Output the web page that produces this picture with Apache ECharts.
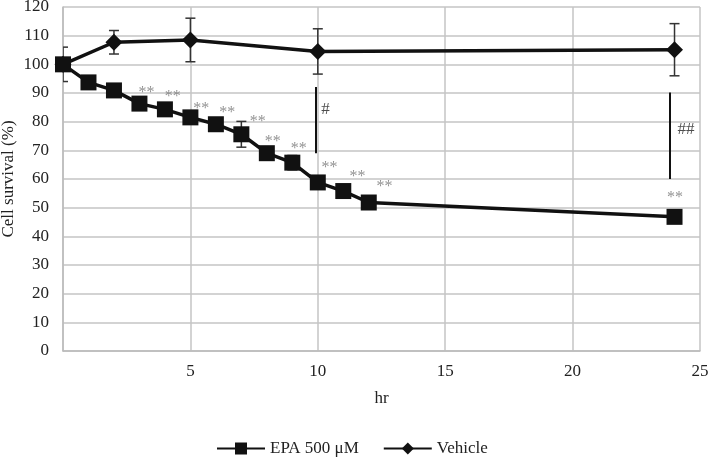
<!DOCTYPE html>
<html><head><meta charset="utf-8">
<script src="https://cdn.jsdelivr.net/npm/echarts@6/dist/echarts.min.js"></script>
<style>html,body{margin:0;padding:0;background:#fff}#c{width:709px;height:463px}</style>
</head><body><div id="c"></div>
<script>
// ---- data ----
const epaHours = [0,1,2,3,4,5,6,7,8,9,10,11,12,24];
const epaValues = [100,93.7,90.9,86.3,84.3,81.5,79.1,75.6,69.0,65.7,58.8,55.8,51.8,46.8];
const epaErrors = [0,0,0,0,0,0,0,4.5,0,2.5,0,0,0,0];
const vehHours = [0,2,5,10,24];
const vehValues = [100,107.7,108.5,104.5,105.1];
const vehErrors = [6,4.1,7.6,7.9,9.1];
const starX = [3.28,4.31,5.43,6.45,7.64,8.23,9.25,10.46,11.56,12.62,24.02];
const starY = [91.5,89.9,86.0,84.5,81.5,74.5,72.0,65.4,62.2,58.6,54.8];
const sigLines = [[9.9,92.1,69.0,'#',10.3,84.4],[23.83,90.2,60.0,'##',24.45,77.2]];
const xTicks = [0,5,10,15,20,25];
const yTicks = [0,10,20,30,40,50,60,70,80,90,100,110,120];

const font = '"Liberation Serif","Times New Roman",serif';
const chart = echarts.init(document.getElementById('c'));

function errSeries(name, xs, ys, es, z){
  return {
    type:'custom', name:name+'_err', z:z, silent:true, clip:true,
    data: xs.map((x,i)=>[x, ys[i]-es[i], ys[i]+es[i], es[i]]),
    renderItem:function(params, api){
      if(api.value(3) <= 0) return null;
      const lo = api.coord([api.value(0), api.value(1)]);
      const hi = api.coord([api.value(0), api.value(2)]);
      const w = 5;
      const left = params.coordSys.x;
      const st = {stroke:'#333', lineWidth:1.5};
      const l = Math.max(left, lo[0]-w);
      return {type:'group', children:[
        {type:'line', shape:{x1:lo[0],y1:lo[1],x2:hi[0],y2:hi[1]}, style:st},
        {type:'line', shape:{x1:l,y1:lo[1],x2:lo[0]+w,y2:lo[1]}, style:st},
        {type:'line', shape:{x1:l,y1:hi[1],x2:hi[0]+w,y2:hi[1]}, style:st}
      ]};
    }
  };
}

const option = {
  animation:false,
  textStyle:{fontFamily:font},
  grid:{left:63, right:9, top:7, bottom:112, containLabel:false, outerBoundsMode:'none'},
  xAxis:{
    type:'value', min:0, max:25, interval:5,
    name:'hr', nameLocation:'middle', nameGap:39, nameMoveOverlap:false,
    nameTextStyle:{fontFamily:font, fontSize:17, color:'#222'},
    axisLine:{show:true, lineStyle:{color:'#bbb', width:1.5}},
    axisTick:{show:false},
    axisLabel:{fontFamily:font, fontSize:17, color:'#222', margin:12,
      formatter:v=> v===0 ? '' : String(v)},
    splitLine:{show:true, lineStyle:{color:'#c4c4c4', width:1.5}}
  },
  yAxis:{
    type:'value', min:0, max:120, interval:10,
    name:'Cell survival (%)', nameLocation:'middle', nameGap:46, nameMoveOverlap:false,
    nameTextStyle:{fontFamily:font, fontSize:17, color:'#222'},
    axisLine:{show:true, lineStyle:{color:'#bbb', width:1.5}},
    axisTick:{show:false},
    axisLabel:{fontFamily:font, fontSize:17, color:'#222', margin:14},
    splitLine:{show:true, lineStyle:{color:'#c4c4c4', width:1.5}}
  },
  legend:{
    bottom:1, left:211, itemGap:24, itemWidth:48, itemHeight:15,
    data:['EPA 500 μM','Vehicle'],
    textStyle:{fontFamily:font, fontSize:17, color:'#222'}
  },
  series:[
    errSeries('EPA', epaHours, epaValues, epaErrors, 3),
    errSeries('Vehicle', vehHours, vehValues, vehErrors, 3),
    {
      name:'Vehicle', type:'line', z:4,
      data: vehHours.map((x,i)=>[x, vehValues[i]]),
      symbol:'diamond', symbolSize:17,
      lineStyle:{color:'#111', width:3.5},
      itemStyle:{color:'#111'}
    },
    {
      name:'EPA 500 μM', type:'line', z:5,
      data: epaHours.map((x,i)=>[x, epaValues[i]]),
      symbol:'rect', symbolSize:16,
      lineStyle:{color:'#111', width:3.5},
      itemStyle:{color:'#111'}
    },
    {
      name:'stars', type:'scatter', z:6, silent:true, symbolSize:0,
      data: starX.map((x,i)=>[x, starY[i]]),
      label:{show:true, formatter:'**', position:'inside', offset:[0,4],
        fontFamily:font, fontSize:16, color:'#777'}
    },
    {
      name:'sig', type:'line', z:6, silent:true, symbol:'none', data:[],
      markLine:{silent:true, symbol:'none',
        lineStyle:{color:'#111', width:2, type:'solid'},
        label:{show:false},
        data: sigLines.map(s=>[{coord:[s[0],s[1]]},{coord:[s[0],s[2]]}])}
    },
    {
      name:'sigLabels', type:'scatter', z:6, silent:true, symbolSize:0,
      data: sigLines.map(s=>({value:[s[4], s[5]], label:{formatter:s[3]}})),
      label:{show:true, position:'inside', fontFamily:font, fontSize:17, color:'#222'}
    }
  ]
};
chart.setOption(option);
</script></body></html>
